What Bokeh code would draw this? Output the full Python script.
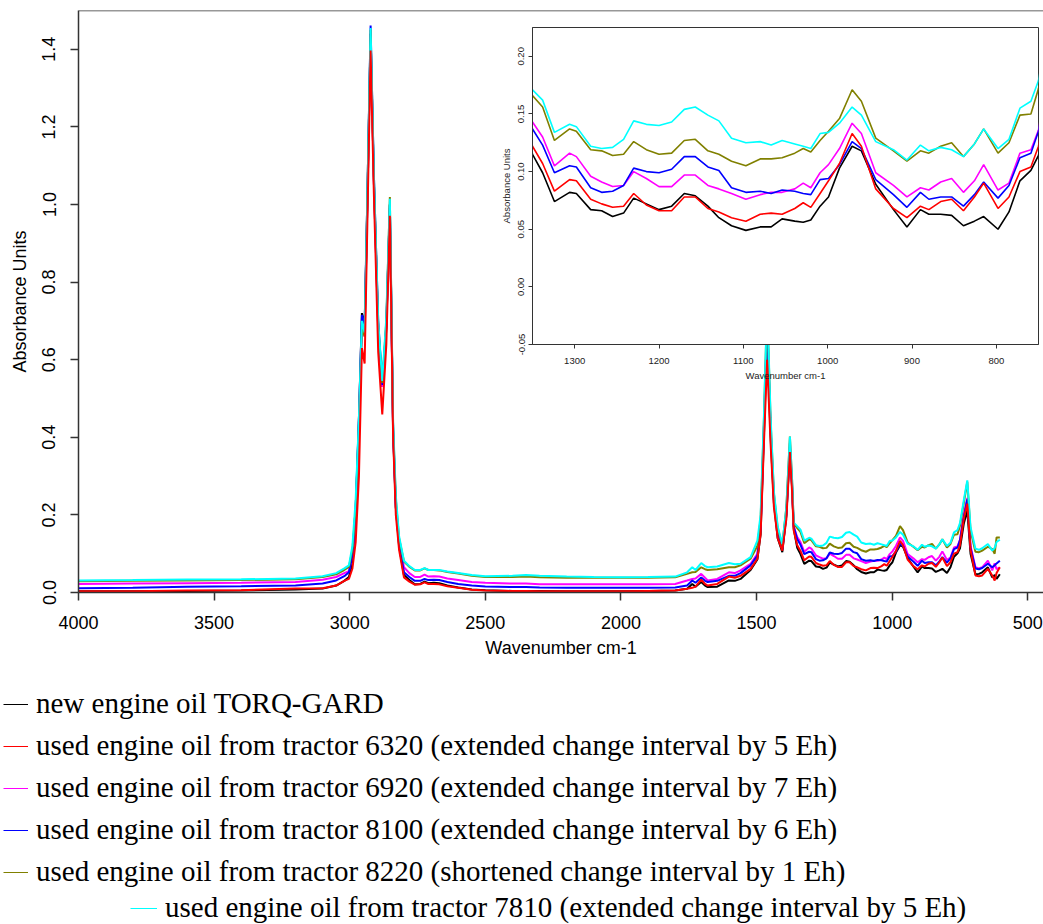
from bokeh.plotting import figure
from bokeh.models import Range1d, FixedTicker, PrintfTickFormatter, Span, Legend, LegendItem
from bokeh.embed import file_html
from bokeh.resources import INLINE

# ---------------- data ----------------
wavenumber = [
    4000, 3800, 3600, 3400, 3200, 3100, 3050, 3020, 3003, 2990,
    2978, 2966, 2955, 2945, 2935, 2923, 2911, 2895, 2880, 2865,
    2852, 2840, 2830, 2818, 2800, 2780, 2760, 2740, 2724, 2710,
    2690, 2670, 2640, 2600, 2550, 2500, 2400, 2350, 2300, 2200,
    2100, 2000, 1900, 1800, 1756, 1737, 1725, 1704, 1690, 1680,
    1645, 1602, 1580, 1559, 1522, 1497, 1485, 1473, 1461, 1448,
    1436, 1422, 1405, 1390, 1377, 1369, 1363,
    1350, 1338, 1324, 1306, 1298, 1281, 1268, 1255, 1242, 1230,
    1215, 1200, 1185, 1170, 1157, 1142, 1129, 1114, 1097, 1080,
    1067, 1054, 1039, 1029, 1020, 1009, 999, 986, 971, 960,
    943, 922, 906, 890, 880, 866, 853, 839, 826, 815,
    798, 785, 772, 759, 750,
    736, 723, 711, 693, 680, 668, 647, 631, 622, 615, 603,
]

new_torq_gard = [
    .003, .003, .004, .005, .008, .010, .018, .030, .040, .075,
    .20, .45, .72, .69, 1.00, 1.44, 1.06, .68, .53, .68,
    1.00, .41, .22, .12, .045, .032, .021, .022, .028, .024,
    .025, .024, .018, .013, .008, .006, .004, .004, .004, .003,
    .003, .003, .004, .005, .0095, .022, .015, .027, .018, .014,
    .015, .031, .030, .035, .058, .085, .15, .40, .66, .40,
    .23, .14, .104, .20, .37, .27, .165,
    .115, .099, .074, .082, .081, .067, .066, .061, .064, .077,
    .072, .067, .070, .081, .079, .070, .060, .053, .049, .052,
    .052, .059, .057, .056, .058, .070, .078, .103, .122, .118,
    .089, .067, .052, .067, .063, .063, .062, .053, .057, .061,
    .050, .065, .092, .101, .114,
    .177, .211, .10, .047, .048, .052, .065, .039, .045, .035, .047,
]

used_6320 = [
    .003, .003, .005, .006, .010, .011, .018, .030, .035, .062,
    .13, .30, .63, .59, .95, 1.397, 1.03, .62, .459, .64,
    .971, .40, .20, .11, .039, .028, .020, .021, .026, .022,
    .022, .021, .016, .012, .007, .005, .004, .004, .003, .003,
    .003, .003, .004, .005, .0095, .012, .015, .033, .022, .018,
    .022, .041, .038, .043, .061, .087, .15, .38, .60, .38,
    .22, .14, .108, .19, .362, .26, .16,
    .122, .107, .083, .093, .092, .076, .072, .069, .070, .081,
    .071, .066, .066, .078, .078, .068, .065, .060, .057, .063,
    .064, .063, .068, .073, .069, .081, .092, .107, .133, .122,
    .085, .068, .060, .070, .067, .074, .076, .066, .078, .090,
    .068, .078, .100, .104, .122,
    .19, .229, .11, .044, .042, .044, .061, .044, .031, .050, .065,
]

used_6920 = [
    .022, .023, .024, .025, .027, .033, .040, .050, .055, .095,
    .20, .42, .68, .66, 1.00, 1.44, 1.06, .68, .53, .69,
    .99, .42, .23, .13, .065, .050, .040, .040, .046, .041,
    .042, .041, .036, .032, .027, .025, .023, .023, .021, .021,
    .021, .021, .021, .022, .031, .035, .036, .048, .038, .031,
    .035, .052, .050, .057, .074, .100, .17, .42, .70, .42,
    .245, .155, .115, .21, .385, .28, .17,
    .143, .130, .105, .116, .113, .096, .091, .087, .088, .100,
    .094, .087, .087, .097, .097, .088, .085, .081, .076, .080,
    .082, .082, .085, .090, .086, .099, .106, .120, .142, .133,
    .099, .088, .078, .086, .084, .091, .094, .082, .092, .106,
    .084, .090, .116, .119, .136,
    .20, .244, .12, .065, .062, .065, .082, .057, .075, .060, .065,
]

used_8100 = [
    .011, .012, .015, .016, .018, .023, .031, .042, .052, .095,
    .22, .45, .715, .69, 1.02, 1.461, 1.08, .70, .535, .69,
    1.00, .42, .22, .125, .052, .040, .030, .030, .035, .032,
    .033, .032, .027, .022, .018, .0155, .014, .014, .013, .012,
    .012, .012, .012, .013, .018, .031, .025, .039, .030, .027,
    .030, .043, .043, .050, .070, .095, .165, .42, .70, .42,
    .24, .15, .11, .20, .375, .275, .17,
    .137, .123, .099, .105, .104, .086, .082, .083, .088, .103,
    .100, .099, .102, .113, .113, .104, .101, .086, .082, .083,
    .081, .084, .083, .081, .080, .093, .094, .106, .126, .120,
    .093, .080, .069, .082, .076, .078, .078, .070, .080, .091,
    .077, .088, .112, .116, .135,
    .195, .24, .115, .062, .060, .063, .074, .065, .070, .075, .082,
]

used_8220 = [
    .029, .030, .031, .032, .034, .040, .047, .058, .066, .110,
    .22, .43, .68, .66, 1.02, 1.45, 1.07, .69, .54, .70,
    1.019, .43, .24, .14, .080, .066, .057, .057, .062, .058,
    .058, .057, .053, .049, .043, .040, .040, .041, .039, .038,
    .038, .038, .038, .039, .048, .052, .053, .065, .060, .058,
    .060, .065, .065, .070, .087, .120, .19, .44, .74, .44,
    .255, .165, .122, .22, .402, .29, .178,
    .166, .156, .127, .137, .135, .119, .118, .114, .115, .126,
    .119, .115, .116, .127, .128, .118, .115, .109, .105, .111,
    .111, .112, .116, .120, .117, .127, .135, .146, .171, .161,
    .129, .118, .109, .118, .116, .122, .125, .113, .124, .137,
    .116, .125, .149, .150, .172,
    .23, .285, .16, .105, .104, .108, .118, .112, .10, .142, .142,
]

used_7810 = [
    .031, .032, .0335, .034, .036, .042, .050, .062, .070, .120,
    .24, .45, .70, .67, 1.02, 1.455, 1.08, .70, .545, .71,
    1.015, .44, .25, .145, .082, .068, .058, .058, .063, .058,
    .058, .058, .054, .050, .045, .042, .043, .045, .043, .041,
    .040, .0395, .040, .041, .052, .065, .058, .076, .068, .065,
    .067, .076, .073, .074, .091, .134, .20, .45, .75, .45,
    .26, .17, .125, .22, .402, .29, .18,
    .171, .162, .134, .141, .139, .122, .120, .121, .128, .144,
    .141, .140, .143, .154, .156, .149, .144, .129, .125, .126,
    .123, .127, .124, .122, .120, .133, .134, .142, .156, .149,
    .126, .119, .110, .123, .118, .121, .119, .113, .124, .137,
    .120, .128, .155, .161, .179,
    .237, .289, .168, .113, .110, .114, .125, .108, .115, .130, .136,
]

series_labels = [
    "new engine oil TORQ-GARD",
    "used engine oil from tractor 6320 (extended change interval by 5 Eh)",
    "used engine oil from tractor 6920 (extended change interval by 7 Eh)",
    "used engine oil from tractor 8100 (extended change interval by 6 Eh)",
    "used engine oil from tractor 8220 (shortened change interval by 1 Eh)",
    "used engine oil from tractor 7810 (extended change interval by 5 Eh)",
]
series_values = [new_torq_gard, used_6320, used_6920, used_8100, used_8220, used_7810]
series_colors = ["#000000", "#FF0000", "#FF00FF", "#0000FF", "#808000", "#00FFFF"]

main_x_ticks = [4000, 3500, 3000, 2500, 2000, 1500, 1000, 500]
main_y_ticks = [0.0, 0.2, 0.4, 0.6, 0.8, 1.0, 1.2, 1.4]
inset_x_ticks = [1300, 1200, 1100, 1000, 900, 800]
inset_y_ticks = [-0.05, 0.0, 0.05, 0.10, 0.15, 0.20]

for s in series_values:
    assert len(s) == len(wavenumber)

SANS = "Liberation Sans"
SERIF = "Liberation Serif"
draw_order = [0, 2, 3, 4, 5, 1]

# ---------------- main figure ----------------
p = figure(width=1043, height=676, x_range=Range1d(4000, 442), y_range=Range1d(0, 1.5),
           output_backend="svg", toolbar_location=None,
           min_border_left=78, min_border_right=0, min_border_top=10, min_border_bottom=84,
           outline_line_color=None, background_fill_color="white")
p.grid.visible = False
for i in draw_order:
    p.line(wavenumber, series_values[i], line_color=series_colors[i], line_width=2)
p.add_layout(Span(location=1.5, dimension="width", line_color="#333333", line_width=1.5))

xa = p.xaxis[0]
xa.ticker = FixedTicker(ticks=main_x_ticks)
xa.axis_label = "Wavenumber cm-1"
ya = p.yaxis[0]
ya.ticker = FixedTicker(ticks=main_y_ticks)
ya.formatter = PrintfTickFormatter(format="%.1f")
ya.axis_label = "Absorbance Units"
ya.major_label_orientation = "vertical"
for ax in (xa, ya):
    ax.axis_line_color = "#333333"
    ax.axis_line_width = 1.5
    ax.major_tick_line_color = "#333333"
    ax.major_tick_line_width = 1.5
    ax.major_tick_out = 8
    ax.major_tick_in = 0
    ax.minor_tick_out = 0
    ax.minor_tick_in = 0
    ax.major_label_text_font = SANS
    ax.major_label_text_font_size = "18px"
    ax.major_label_text_color = "black"
    ax.axis_label_text_font = SANS
    ax.axis_label_text_font_size = "18px"
    ax.axis_label_text_font_style = "normal"
    ax.axis_label_text_color = "black"
xa.major_label_standoff = 15
xa.axis_label_standoff = 6
ya.major_label_standoff = 15
ya.axis_label_standoff = 10

# ---------------- legend figure (R style legend below the plot) ----------------
lg = figure(width=1043, height=248, x_range=Range1d(0, 1), y_range=Range1d(0, 1),
            output_backend="svg", toolbar_location=None,
            min_border_left=0, min_border_right=0, min_border_top=0, min_border_bottom=0,
            x_axis_type=None, y_axis_type=None, outline_line_color=None)
lg.grid.visible = False
# legend-only renderers: their (off-range) data is never visible, only the legend key is
dummy = [lg.line([5, 6], [5, 5], line_color=c, line_width=1) for c in series_colors]
items = [LegendItem(label=lab, renderers=[r]) for lab, r in zip(series_labels, dummy)]
leg_style = dict(label_text_font=SERIF, label_text_font_size="29px", label_text_color="black",
                 glyph_height=32, label_height=32, spacing=9, padding=0, margin=0,
                 border_line_color=None, background_fill_alpha=0, label_standoff=8)
leg1 = Legend(items=items[:5], location=(3, 36), glyph_width=25, **leg_style)
leg2 = Legend(items=items[5:], location=(130, 0), glyph_width=27, **leg_style)
lg.add_layout(leg1)
lg.add_layout(leg2)

# ---------------- inset figure ----------------
ins = figure(width=548, height=365, x_range=Range1d(1350, 750), y_range=Range1d(-0.05, 0.225),
             output_backend="svg", toolbar_location=None,
             min_border_left=40, min_border_right=2, min_border_top=7, min_border_bottom=41,
             background_fill_color="white", border_fill_alpha=0,
             outline_line_color="#333333", outline_line_width=1)
ins.grid.visible = False
for i in draw_order:
    ins.line(wavenumber, series_values[i], line_color=series_colors[i], line_width=1.6)

ixa = ins.xaxis[0]
ixa.ticker = FixedTicker(ticks=inset_x_ticks)
ixa.axis_label = "Wavenumber cm-1"
iya = ins.yaxis[0]
iya.ticker = FixedTicker(ticks=inset_y_ticks)
iya.formatter = PrintfTickFormatter(format="%.2f")
iya.axis_label = "Absorbance Units"
iya.major_label_orientation = "vertical"
for ax in (ixa, iya):
    ax.axis_line_color = "#333333"
    ax.major_tick_line_color = "#333333"
    ax.major_tick_out = 4
    ax.major_tick_in = 0
    ax.minor_tick_out = 0
    ax.minor_tick_in = 0
    ax.major_label_text_font = SANS
    ax.major_label_text_font_size = "9.5px"
    ax.major_label_text_color = "#222222"
    ax.axis_label_text_font = SANS
    ax.axis_label_text_font_size = "9.5px"
    ax.axis_label_text_font_style = "normal"
    ax.axis_label_text_color = "#222222"
ixa.major_label_standoff = 9
ixa.axis_label_standoff = 3
iya.major_label_standoff = 4
iya.axis_label_standoff = 4

ins.styles = {"position": "absolute", "left": "492px", "top": "20px"}

open("out.html", "w").write(file_html([p, lg, ins], INLINE))
